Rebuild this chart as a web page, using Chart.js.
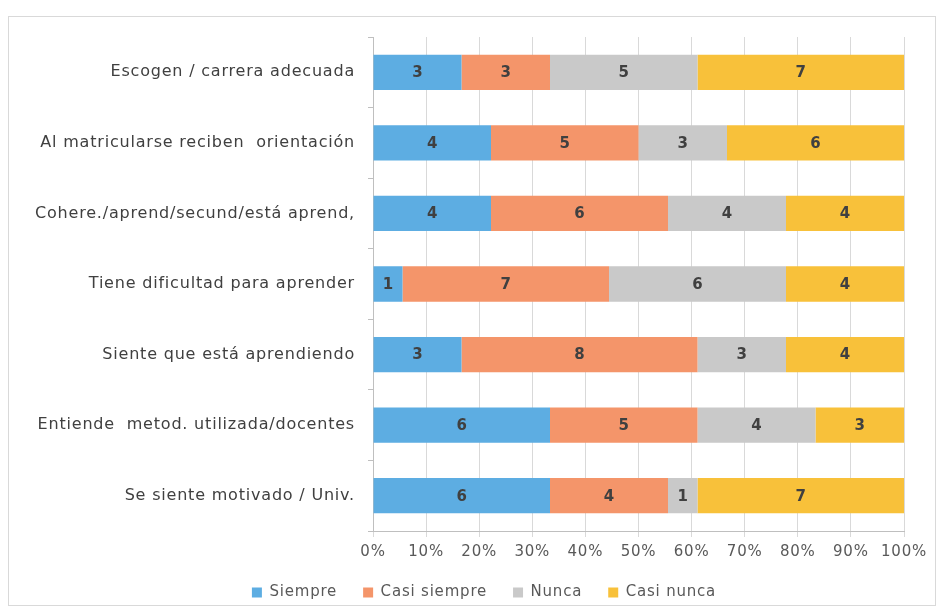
<!DOCTYPE html>
<html>
<head>
<meta charset="utf-8">
<script src="https://cdn.jsdelivr.net/npm/chart.js@4"></script>
<style>
  body { margin: 0; background: #fff; }
  #wrap { position: relative; width: 942px; height: 612px; }
  #frame { position: absolute; left: 8px; top: 16px; width: 926px; height: 588px; border: 1px solid #d9d9d9; }
  canvas { position: absolute; left: 0; top: 0; }
</style>
</head>
<body>
<div id="wrap">
  <div id="frame"></div>
  <canvas id="chart" width="942" height="612"></canvas>
</div>
<script>
// categories (top to bottom)
const categories = [
    "Escogen / carrera adecuada",
    "Al matricularse reciben  orientación",
    "Cohere./aprend/secund/está aprend,",
    "Tiene dificultad para aprender",
    "Siente que está aprendiendo",
    "Entiende  metod. utilizada/docentes",
    "Se siente motivado / Univ."
];
const seriesNames = ["Siempre", "Casi siempre", "Nunca", "Casi nunca"];
const siempre     = [3, 4, 4, 1, 3, 6, 6];
const casiSiempre = [3, 5, 6, 7, 8, 5, 4];
const nunca       = [5, 3, 4, 6, 3, 4, 1];
const casiNunca   = [7, 6, 4, 4, 4, 3, 7];
const colors = ["#5dade2", "#f4956a", "#c9c9c9", "#f8c13a"];
const xTicks = [0, 10, 20, 30, 40, 50, 60, 70, 80, 90, 100];

const counts = [siempre, casiSiempre, nunca, casiNunca];
const totals = categories.map((_, i) => counts.reduce((s, arr) => s + arr[i], 0));

const datasets = counts.map((arr, k) => ({
    label: seriesNames[k],
    data: arr.map((v, i) => v / totals[i] * 100),
    raw: arr,
    backgroundColor: colors[k],
    borderWidth: 0,
    barPercentage: 0.5,
    categoryPercentage: 1
}));

const FONT = "DejaVu Sans";
const SPACING = "0.8px";

// the original text is a bit wider than the font, so loosen the letters
const letterSpacing = {
    id: "letterSpacing",
    beforeUpdate(chart) { chart.ctx.letterSpacing = SPACING; },
    beforeDraw(chart) { chart.ctx.letterSpacing = SPACING; }
};

// legend sits a little right of the canvas centre in the original
const legendNudge = {
    id: "legendNudge",
    afterLayout(chart) {
        chart.legend.left += 22;
        chart.legend.right += 22;
    }
};

// draws the count inside every segment
const segmentLabels = {
    id: "segmentLabels",
    afterDatasetsDraw(chart) {
        const ctx = chart.ctx;
        ctx.save();
        ctx.letterSpacing = "0px";
        ctx.font = "bold 15px '" + FONT + "'";
        ctx.fillStyle = "#404040";
        ctx.textAlign = "center";
        ctx.textBaseline = "middle";
        chart.data.datasets.forEach((ds, k) => {
            chart.getDatasetMeta(k).data.forEach((bar, i) => {
                const x = (bar.x + bar.base) / 2;
                ctx.fillText(ds.raw[i], x, bar.y + 1);
            });
        });
        ctx.restore();
    }
};

new Chart(document.getElementById("chart"), {
    type: "bar",
    data: { labels: categories, datasets: datasets },
    options: {
        indexAxis: "y",
        responsive: false,
        animation: false,
        layout: { padding: { left: 20, right: 38, top: 37, bottom: 7 } },
        scales: {
            x: {
                stacked: true,
                min: 0,
                max: 100,
                afterBuildTicks: s => { s.ticks = xTicks.map(v => ({ value: v })); },
                afterFit: s => { s.height = 28; },
                ticks: {
                    callback: v => v + "%",
                    color: "#595959",
                    font: { family: FONT, size: 15 },
                    padding: 6
                },
                grid: { color: "#d9d9d9", tickLength: 6 },
                border: { color: "#bfbfbf" }
            },
            y: {
                stacked: true,
                afterFit: s => { s.width = 353; },
                ticks: {
                    color: "#404040",
                    font: { family: FONT, size: 16 },
                    padding: 13
                },
                grid: { drawOnChartArea: false, color: "#bfbfbf", tickLength: 5 },
                border: { color: "#bfbfbf" }
            }
        },
        plugins: {
            legend: {
                position: "bottom",
                maxHeight: 46,
                labels: {
                    boxWidth: 10,
                    boxHeight: 10,
                    color: "#595959",
                    font: { family: FONT, size: 15 },
                    padding: 26
                }
            },
            tooltip: { enabled: false }
        }
    },
    plugins: [letterSpacing, legendNudge, segmentLabels]
});
</script>
</body>
</html>
